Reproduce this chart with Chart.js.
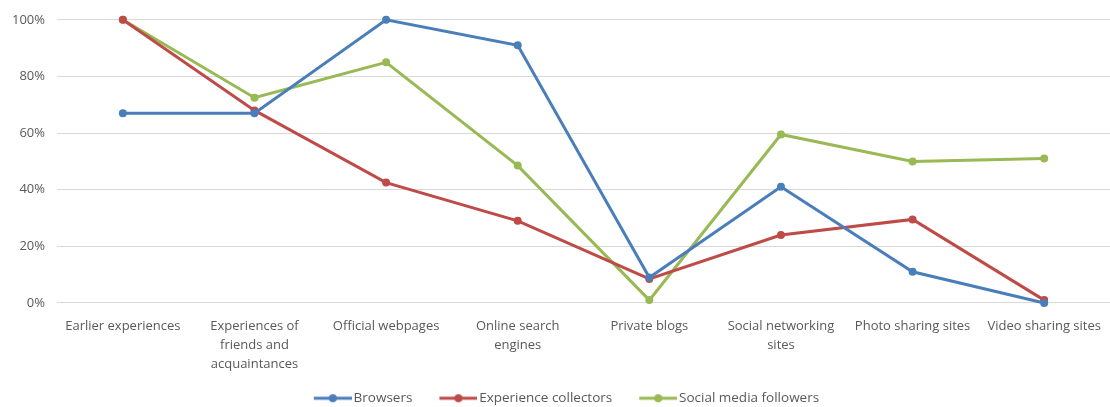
<!DOCTYPE html>
<html>
<head>
<meta charset="utf-8">
<script src="https://cdn.jsdelivr.net/npm/chart.js@4"></script>
<style>
html,body{margin:0;padding:0;background:#fff;}
#wrap{width:1110px;height:407px;position:relative;}
</style>
</head>
<body>
<div id="wrap"><canvas id="c"></canvas></div>
<script>
const categories = [
  ["Earlier experiences"],
  ["Experiences of", "friends and", "acquaintances"],
  ["Official webpages"],
  ["Online search", "engines"],
  ["Private blogs"],
  ["Social networking", "sites"],
  ["Photo sharing sites"],
  ["Video sharing sites"]
];
const browsers = [67, 67, 100, 91, 9, 41, 11, 0];
const experienceCollectors = [100, 68, 42.5, 29, 8.5, 24, 29.5, 1];
const socialMediaFollowers = [100, 72.5, 85, 48.5, 1, 59.5, 50, 51];
const yTicks = [0, 20, 40, 60, 80, 100];
const seriesNames = ["Browsers", "Experience collectors", "Social media followers"];
const colors = ["#4A7EBB", "#BE4B48", "#98B954"];

const BOX_W = 48;
function legendIcon(color) {
  const cw = BOX_W + 10;
  const cv = document.createElement('canvas');
  cv.width = cw; cv.height = 10;
  const g = cv.getContext('2d');
  g.strokeStyle = color; g.lineWidth = 3;
  g.beginPath(); g.moveTo(cw - 38, 5); g.lineTo(cw, 5); g.stroke();
  g.fillStyle = color;
  g.beginPath(); g.arc(cw - 19, 5, 4, 0, Math.PI * 2); g.fill();
  return cv;
}

const seriesData = [browsers, experienceCollectors, socialMediaFollowers];
const datasets = seriesData.map((d, i) => ({
  label: seriesNames[i],
  data: d,
  borderColor: colors[i],
  backgroundColor: colors[i],
  borderWidth: 3,
  pointRadius: 4,
  pointHoverRadius: 4,
  pointBorderWidth: 0,
  pointStyle: 'circle',
  tension: 0,
  fill: false,
  clip: false
}));
const icons = colors.map(legendIcon);

new Chart(document.getElementById('c'), {
  type: 'line',
  data: { labels: categories, datasets: datasets },
  options: {
    responsive: true,
    maintainAspectRatio: false,
    animation: false,
    layout: { autoPadding: false, padding: { top: 7, right: -8, left: 0, bottom: -8 } },
    plugins: {
      tooltip: { enabled: false },
      legend: {
        position: 'bottom',
        labels: {
          usePointStyle: true,
          pointStyleWidth: BOX_W,
          color: '#595959',
          font: { family: "'Open Sans', 'Noto Sans', sans-serif", size: 13.5 },
          padding: 12,
          generateLabels: (chart) => chart.data.datasets.map((ds, i) => ({
            text: ds.label,
            fillStyle: ds.borderColor,
            strokeStyle: ds.borderColor,
            fontColor: '#595959',
            pointStyle: icons[i],
            lineWidth: 0,
            hidden: false,
            datasetIndex: i
          }))
        }
      }
    },
    scales: {
      x: {
        offset: true,
        grid: { display: false },
        border: { display: true, color: '#D9D9D9', width: 1 },
        afterFit: (s) => { s.paddingRight = 0; },
        ticks: {
          color: '#595959',
          font: { family: "'Open Sans', 'Noto Sans', sans-serif", size: 13, lineHeight: 1.45 },
          maxRotation: 0,
          autoSkip: false,
          padding: 6
        }
      },
      y: {
        min: 0,
        max: 100,
        afterBuildTicks: (axis) => { axis.ticks = yTicks.map(v => ({ value: v })); },
        grid: { color: '#D9D9D9', lineWidth: 1, drawTicks: false },
        border: { display: false },
        ticks: {
          color: '#595959',
          font: { family: "'Open Sans', 'Noto Sans', sans-serif", size: 13 },
          padding: 12,
          callback: (v) => v + '%'
        }
      }
    }
  }
});
</script>
</body>
</html>
